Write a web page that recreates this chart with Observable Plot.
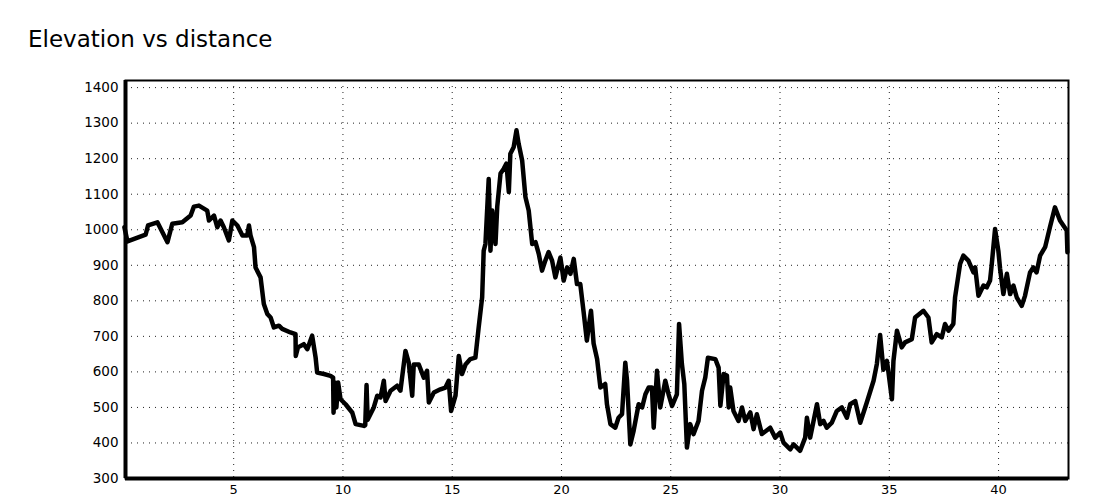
<!DOCTYPE html>
<html>
<head>
<meta charset="utf-8">
<script src="https://cdn.jsdelivr.net/npm/d3@7"></script>
<script src="https://cdn.jsdelivr.net/npm/@observablehq/plot@0.6"></script>
<style>
  html, body { margin: 0; padding: 0; background: #fff; }
  #title { height: 64px; box-sizing: border-box; padding: 26px 0 0 28px; font: 23px "DejaVu Sans", sans-serif; line-height: normal; color: #000; }
  #chart svg { display: block; }
</style>
</head>
<body>
<div id="title">Elevation vs distance</div>
<div id="chart"></div>
<script>
const distanceKm = [
  0.0, 0.14, 0.97, 1.08, 1.51, 1.97, 2.19, 2.65, 3.03, 3.18, 3.41, 3.79, 3.87, 4.10, 4.25, 4.40, 4.55, 4.78, 4.94, 5.17,
  5.40, 5.62, 5.70, 5.77, 5.93, 6.00, 6.23, 6.38, 6.54, 6.69, 6.84, 7.07, 7.22, 7.60, 7.83, 7.84, 7.94, 8.21, 8.37, 8.59,
  8.75, 8.82, 9.13, 9.43, 9.55, 9.57, 9.63, 9.70, 9.78, 9.89, 10.12, 10.43, 10.58, 10.96, 11.02, 11.08, 11.13, 11.41, 11.57, 11.72,
  11.87, 11.95, 12.18, 12.48, 12.63, 12.86, 13.01, 13.17, 13.24, 13.47, 13.70, 13.85, 13.93, 14.16, 14.46, 14.69, 14.84, 14.95, 15.15, 15.30,
  15.45, 15.61, 15.83, 16.06, 16.21, 16.37, 16.44, 16.52, 16.67, 16.75, 16.83, 16.98, 17.06, 17.21, 17.36, 17.48, 17.59, 17.66, 17.81, 17.94,
  18.04, 18.20, 18.35, 18.50, 18.66, 18.81, 18.96, 19.11, 19.26, 19.41, 19.57, 19.72, 19.95, 20.10, 20.26, 20.41, 20.56, 20.71, 20.86, 21.01,
  21.16, 21.35, 21.47, 21.63, 21.78, 22.00, 22.08, 22.24, 22.46, 22.61, 22.77, 22.92, 23.00, 23.15, 23.30, 23.53, 23.69, 23.84, 23.99, 24.14,
  24.22, 24.37, 24.52, 24.75, 24.90, 25.06, 25.28, 25.38, 25.51, 25.62, 25.74, 25.89, 26.04, 26.27, 26.43, 26.58, 26.70, 27.04, 27.19, 27.27,
  27.42, 27.57, 27.65, 27.72, 27.87, 28.10, 28.26, 28.41, 28.64, 28.79, 28.94, 29.17, 29.55, 29.78, 30.01, 30.16, 30.47, 30.62, 30.77, 30.92,
  31.15, 31.23, 31.38, 31.69, 31.84, 31.99, 32.14, 32.37, 32.60, 32.83, 33.06, 33.21, 33.44, 33.67, 33.97, 34.28, 34.43, 34.58, 34.73, 34.89,
  34.96, 35.12, 35.19, 35.35, 35.57, 35.72, 36.03, 36.18, 36.56, 36.79, 36.94, 37.17, 37.40, 37.55, 37.71, 37.93, 38.01, 38.24, 38.39, 38.62,
  38.85, 38.93, 39.08, 39.31, 39.46, 39.61, 39.69, 39.84, 39.99, 40.07, 40.22, 40.38, 40.53, 40.68, 40.83, 41.06, 41.21, 41.44, 41.59, 41.74,
  41.90, 42.13, 42.35, 42.58, 42.81, 43.12, 43.15
];
const elevationM = [
  1007, 967, 986, 1012, 1021, 965, 1017, 1021, 1040, 1065, 1068, 1054, 1026, 1040, 1007, 1026, 1007, 970, 1026, 1012,
  984, 984, 1012, 984, 951, 894, 866, 791, 763, 753, 725, 730, 721, 711, 706, 645, 669, 678, 664, 702,
  640, 598, 594, 589, 584, 485, 570, 500, 570, 523, 509, 485, 453, 448, 450, 563, 465, 500, 533, 528,
  575, 518, 547, 561, 547, 659, 626, 533, 621, 621, 584, 603, 514, 542, 551, 556, 575, 490, 533, 645,
  594, 621, 636, 640, 725, 810, 941, 960, 1143, 941, 1054, 960, 1065, 1158, 1172, 1186, 1106, 1214, 1232, 1280,
  1242, 1195, 1092, 1054, 960, 965, 932, 885, 913, 937, 913, 866, 922, 857, 894, 876, 918, 847, 847, 770,
  688, 772, 680, 636, 556, 566, 509, 453, 443, 471, 481, 626, 575, 396, 434, 509, 500, 537, 556, 556,
  443, 603, 500, 575, 537, 504, 537, 735, 622, 566, 387, 453, 425, 462, 547, 584, 640, 636, 612, 505,
  594, 590, 500, 556, 490, 462, 500, 462, 486, 439, 481, 425, 443, 415, 429, 401, 382, 396, 387, 378,
  415, 471, 415, 509, 453, 462, 443, 457, 490, 500, 471, 509, 518, 457, 514, 575, 622, 704, 606, 631,
  600, 523, 631, 716, 669, 683, 692, 753, 772, 753, 683, 706, 697, 735, 716, 735, 810, 904, 927, 913,
  880, 894, 814, 843, 838, 857, 904, 1002, 941, 890, 819, 876, 819, 843, 810, 786, 814, 880, 894, 880,
  927, 951, 1007, 1063, 1026, 998, 937
];
const xTicks = [5, 10, 15, 20, 25, 30, 35, 40];
const yTicks = [300, 400, 500, 600, 700, 800, 900, 1000, 1100, 1200, 1300, 1400];
const xDomain = [0.05, 43.2];
const yDomain = [300, 1420];

const data = distanceKm.map((d, i) => ({d, e: elevationM[i]}));
const gridY = yTicks.filter(t => t > yDomain[0]);

const chart = Plot.plot({
  width: 1100,
  height: 436,
  marginLeft: 125,
  marginRight: 32,
  marginTop: 16,
  marginBottom: 22,
  style: {fontFamily: "'DejaVu Sans', sans-serif", fontSize: "13px", color: "#000", background: "#fff"},
  x: {domain: xDomain, ticks: xTicks},
  y: {domain: yDomain, ticks: yTicks},
  marks: [
    Plot.gridX(xTicks, {stroke: "#222", strokeOpacity: 1, strokeDasharray: "1,5"}),
    Plot.gridY(gridY, {stroke: "#222", strokeOpacity: 1, strokeDasharray: "1,5"}),
    Plot.axisX(xTicks, {tickSize: 0, tickPadding: 6, label: null, fill: "#000", fontSize: 13, tickFormat: "d"}),
    Plot.axisY(yTicks, {tickSize: 0, tickPadding: 7, label: null, fill: "#000", fontSize: 13.5, tickFormat: "d"}),
    Plot.line(data, {x: "d", y: "e", stroke: "#000", strokeWidth: 4.5, strokeLinejoin: "round", strokeLinecap: "round"}),
    Plot.frame({stroke: "#000", strokeWidth: 2}),
    Plot.ruleX([xDomain[0]], {stroke: "#000", strokeWidth: 4}),
    Plot.ruleY([yDomain[0]], {stroke: "#000", strokeWidth: 4})
  ]
});
document.getElementById("chart").appendChild(chart);
</script>
</body>
</html>
